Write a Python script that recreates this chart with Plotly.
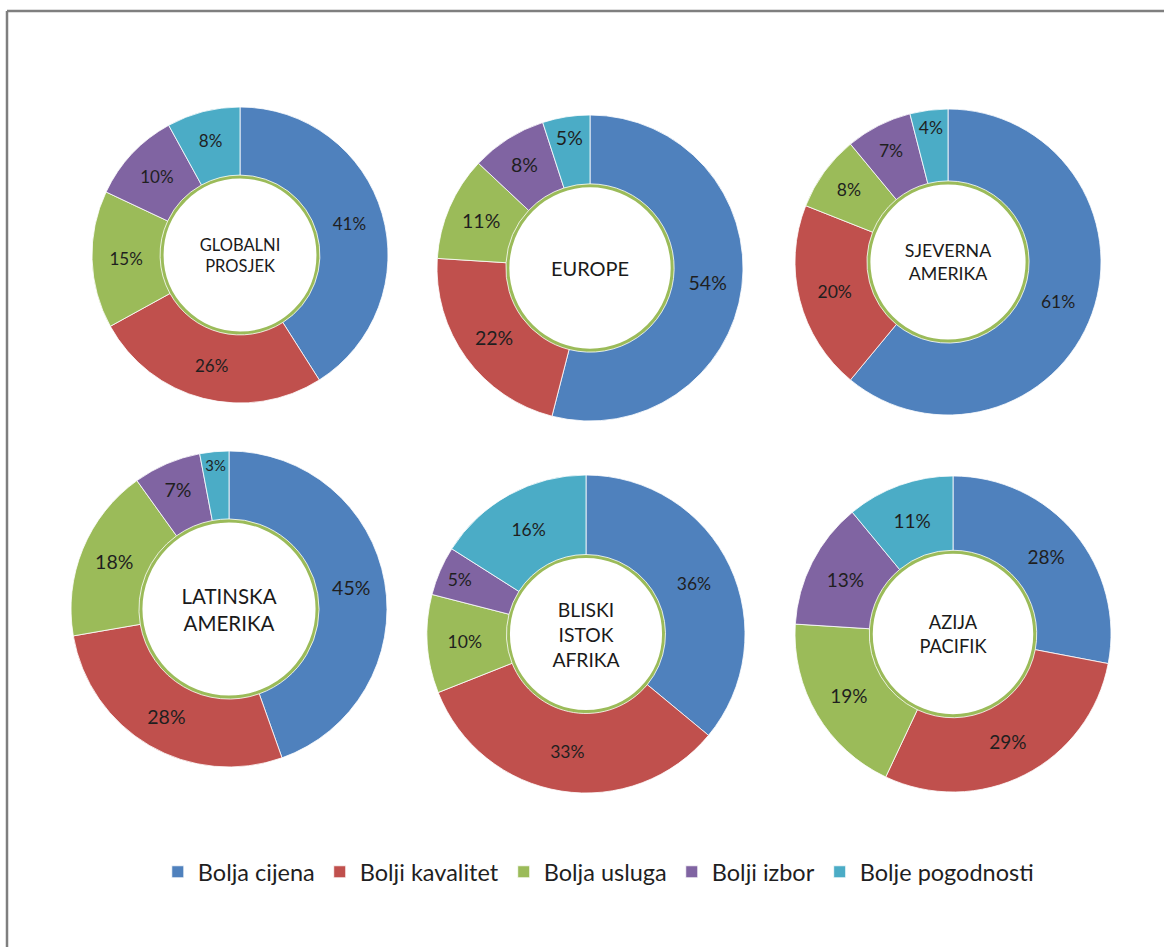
import plotly.graph_objects as go

# Shopping motive shares (%) by region
categories = ["Bolja cijena", "Bolji kavalitet", "Bolja usluga", "Bolji izbor", "Bolje pogodnosti"]
colors = ["#4F81BD", "#C0504D", "#9BBB59", "#8064A2", "#4BACC6"]

regions = ["GLOBALNI<br>PROSJEK", "EUROPE", "SJEVERNA<br>AMERIKA",
           "LATINSKA<br>AMERIKA", "BLISKI<br>ISTOK<br>AFRIKA", "AZIJA<br>PACIFIK"]

globalni_prosjek = [41, 26, 15, 10, 8]
europe = [54, 22, 11, 8, 5]
sjeverna_amerika = [61, 20, 8, 7, 4]
latinska_amerika = [45, 28, 18, 7, 3]
bliski_istok_afrika = [36, 33, 10, 5, 16]
azija_pacifik = [28, 29, 19, 13, 11]

series = [globalni_prosjek, europe, sjeverna_amerika,
          latinska_amerika, bliski_istok_afrika, azija_pacifik]

# Layout of each donut on the page: centre (px), outer radius (px), hole fraction, font sizes
W, H = 1164, 947
placement = [
    dict(cx=240, cy=255, r=148, hole=0.54, lab=17, title=16.5),
    dict(cx=590, cy=268, r=153, hole=0.55, lab=19.5, title=20),
    dict(cx=948, cy=262, r=153, hole=0.53, lab=17.5, title=17.8),
    dict(cx=229, cy=609, r=158, hole=0.57, lab=19.5, title=20.5),
    dict(cx=586, cy=634, r=159, hole=0.50, lab=17.5, title=19.3),
    dict(cx=953, cy=634, r=158, hole=0.53, lab=19, title=18.3),
]

FONT = "Lato, 'Open Sans', sans-serif"
TEXT = "#1f1f1f"


def domain(cx, cy, r):
    return dict(x=[(cx - r) / W, (cx + r) / W],
                y=[1 - (cy + r) / H, 1 - (cy - r) / H])


fig = go.Figure()

for i, (name, vals, p) in enumerate(zip(regions, series, placement)):
    # white disc with green rim filling the donut hole
    fig.add_trace(go.Pie(
        values=[1], labels=["_rim%d" % i], sort=False,
        marker=dict(colors=["white"], line=dict(color="#9BBB59", width=7)),
        textinfo="none", hoverinfo="skip", showlegend=False,
        domain=domain(p["cx"], p["cy"], p["r"] * p["hole"]),
    ))
    fig.add_trace(go.Pie(
        labels=categories, values=vals, sort=False, direction="clockwise", rotation=0,
        hole=p["hole"],
        marker=dict(colors=colors, line=dict(color="white", width=0.8)),
        texttemplate="%{value}%", textposition="inside",
        insidetextorientation="horizontal",
        textfont=dict(family=FONT, size=p["lab"], color=TEXT),
        title=dict(text=name, position="middle center",
                   font=dict(family=FONT, size=p["title"], color="#1a1a1a")),
        domain=domain(p["cx"], p["cy"], p["r"]),
        showlegend=(i == 0), name=name.replace("<br>", " "),
    ))

# frame along the top and left edges
frame = dict(color="#7F7F7F", width=2.5)
fig.add_shape(type="line", xref="paper", yref="paper",
              x0=7 / W, x1=7 / W, y0=0, y1=1 - 11 / H, line=frame)
fig.add_shape(type="line", xref="paper", yref="paper",
              x0=7 / W, x1=1, y0=1 - 11 / H, y1=1 - 11 / H, line=frame)

fig.update_layout(
    width=W, height=H,
    margin=dict(l=0, r=0, t=0, b=0),
    paper_bgcolor="white", plot_bgcolor="white",
    font=dict(family=FONT, color=TEXT),
    legend=dict(orientation="h", x=0.514, xanchor="center",
                y=1 - 872 / H, yanchor="middle",
                font=dict(family=FONT, size=23.5, color=TEXT),
                itemwidth=30, traceorder="normal"),
)

fig.write_html("out.html")
